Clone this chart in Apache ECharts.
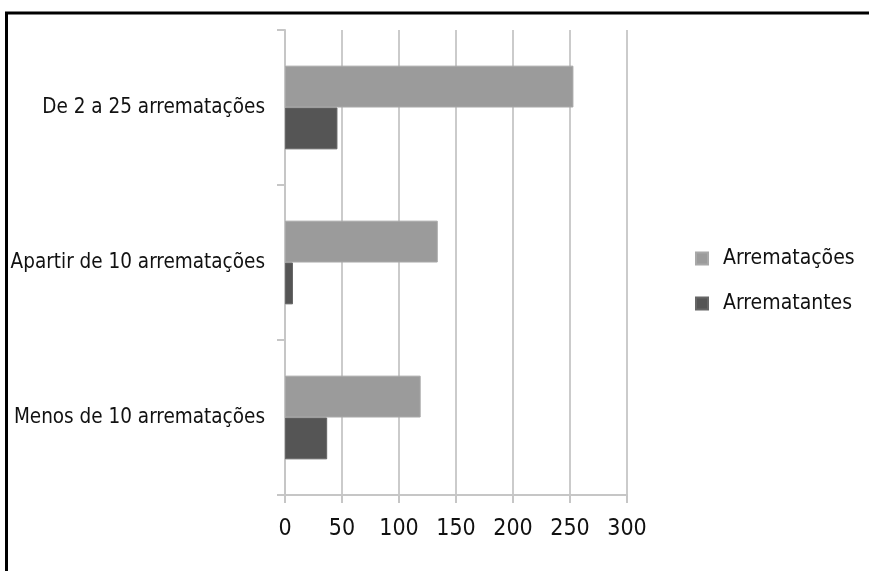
<!DOCTYPE html>
<html>
<head>
<meta charset="utf-8">
<script src="https://cdn.jsdelivr.net/npm/echarts@6/dist/echarts.min.js"></script>
<style>
html,body{margin:0;padding:0;background:#fff;}
#chart{width:869px;height:571px;}
</style>
</head>
<body>
<div id="chart"></div>
<script>
var categories = ['De 2 a 25 arrematações', 'Apartir de 10 arrematações', 'Menos de 10 arrematações'];
var seriesNames = ['Arrematações', 'Arrematantes'];
var arrematacoes = [253, 134, 119];
var arrematantes = [46, 7, 37];
var xTicks = [0, 50, 100, 150, 200, 250, 300];

var FONT = '"Liberation Sans Narrow", "DejaVu Sans Condensed", "Liberation Sans", sans-serif';
var chart = echarts.init(document.getElementById('chart'));
chart.setOption({
  animation: false,
  backgroundColor: '#ffffff',
  graphic: [{
    type: 'rect',
    shape: {x: 6.5, y: 13, width: 1000, height: 800},
    style: {fill: 'none', stroke: '#000', lineWidth: 3},
    silent: true
  }],
  legend: {
    orient: 'vertical',
    left: 690,
    top: 243,
    icon: 'rect',
    itemWidth: 12,
    itemHeight: 12,
    itemGap: 24,
    data: seriesNames,
    textStyle: {fontFamily: FONT, fontSize: 21, color: '#111', padding: [0, 0, 0, 10]}
  },
  grid: {left: 285, right: 242, top: 30, bottom: 76, containLabel: false, outerBoundsMode: 'none'},
  xAxis: {
    type: 'value',
    min: xTicks[0],
    max: xTicks[xTicks.length - 1],
    interval: 50,
    axisLine: {show: true, lineStyle: {color: '#c6c6c6', width: 2}},
    axisTick: {show: true, length: 8, lineStyle: {color: '#c6c6c6', width: 2}},
    splitLine: {show: true, lineStyle: {color: '#cbcbcb', width: 2}},
    axisLabel: {fontFamily: FONT, fontSize: 23, color: '#111', margin: 23}
  },
  yAxis: {
    type: 'category',
    inverse: true,
    data: categories,
    axisLine: {show: true, lineStyle: {color: '#c6c6c6', width: 2}},
    axisTick: {show: true, length: 8, lineStyle: {color: '#c6c6c6', width: 2}},
    axisLabel: {fontFamily: FONT, fontSize: 20.5, color: '#111', margin: 20, padding: [9, 0, 0, 0]}
  },
  series: [{
    name: seriesNames[0],
    type: 'bar',
    data: arrematacoes,
    barGap: '0%',
    barCategoryGap: '46%',
    itemStyle: {color: '#9b9b9b', borderColor: '#a8a8a8', borderWidth: 1}
  }, {
    name: seriesNames[1],
    type: 'bar',
    data: arrematantes,
    barGap: '0%',
    barCategoryGap: '46%',
    itemStyle: {color: '#555555', borderColor: '#666666', borderWidth: 1}
  }]
});
</script>
</body>
</html>
